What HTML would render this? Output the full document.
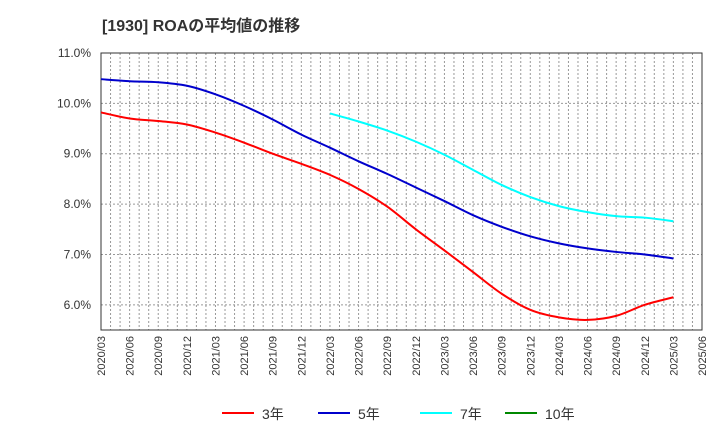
<!DOCTYPE html>
<html><head><meta charset="utf-8"><style>
body{margin:0;background:#fff;font-family:"Liberation Sans","Noto Sans CJK JP",sans-serif}
</style></head><body>
<svg id="c" width="720" height="440" xmlns="http://www.w3.org/2000/svg" font-family="Liberation Sans, Noto Sans CJK JP, sans-serif"></svg>
<script>
const xLabels=["2020/03","2020/06","2020/09","2020/12","2021/03","2021/06","2021/09","2021/12","2022/03","2022/06","2022/09","2022/12","2023/03","2023/06","2023/09","2023/12","2024/03","2024/06","2024/09","2024/12","2025/03","2025/06"];
const yTicks=[6,7,8,9,10,11];
const s3=[9.82,9.7,9.65,9.58,9.42,9.22,9.0,8.8,8.58,8.3,7.95,7.5,7.08,6.65,6.22,5.9,5.75,5.7,5.78,6.0,6.15];
const s5=[10.48,10.44,10.42,10.35,10.18,9.95,9.68,9.38,9.12,8.85,8.6,8.33,8.06,7.78,7.55,7.36,7.22,7.12,7.05,7.0,6.92];
const s7=[null,null,null,null,null,null,null,null,9.8,9.64,9.46,9.24,8.98,8.68,8.38,8.14,7.96,7.84,7.76,7.73,7.66];
const s10=[];
const L=101,R=702,T=53,B=330,yMin=5.5,yMax=11;
const X=i=>L+i*(R-L)/21, Y=v=>B-(v-yMin)/(yMax-yMin)*(B-T);
const svg=document.getElementById('c');const NS="http://www.w3.org/2000/svg";
function el(t,a,p){const e=document.createElementNS(NS,t);for(const k in a)e.setAttribute(k,a[k]);(p||svg).appendChild(e);return e;}
const title=el('text',{x:102,y:31,'font-size':16,'font-weight':'bold',fill:'#333','xml:space':'preserve'});title.textContent="[1930]  ROAの平均値の推移";

const g=el('g',{});
for(let m=1;m<63;m++){const x=L+m*(R-L)/63;el('line',{x1:x,x2:x,y1:T,y2:B,stroke:'#999','stroke-dasharray':'2,2','stroke-width':1},g);}
yTicks.forEach(v=>{el('line',{x1:L,x2:R,y1:Y(v),y2:Y(v),stroke:'#999','stroke-dasharray':'2,2'},g);
const t=el('text',{x:L-10,y:Y(v)+4,'text-anchor':'end','font-size':12,fill:'#333'});t.textContent=v.toFixed(1)+"%";
});
xLabels.forEach((s,i)=>{const x=X(i);const t=el('text',{x:x+4,y:B+6,'text-anchor':'end','font-size':11,fill:'#333',transform:`rotate(-90 ${x+4} ${B+6})`});t.textContent=s;
});
const fr=el('rect',{x:L,y:T,width:R-L,height:B-T,fill:'none',stroke:'#333'});

function line(d,c,n){const pts=[];d.forEach((v,i)=>{if(v!=null)pts.push([X(i),Y(v)]);});
if(!pts.length)return;let p="M"+pts[0];
for(let i=0;i<pts.length-1;i++){const p0=pts[i-1]||pts[i],p1=pts[i],p2=pts[i+1],p3=pts[i+2]||p2;
const c1=[p1[0]+(p2[0]-p0[0])/6,p1[1]+(p2[1]-p0[1])/6],c2=[p2[0]-(p3[0]-p1[0])/6,p2[1]-(p3[1]-p1[1])/6];
p+="C"+c1+" "+c2+" "+p2;}
const e=el('path',{d:p,fill:'none',stroke:c,'stroke-width':2,'stroke-linejoin':'round'});
}
line(s3,'#f00','series-3y');line(s5,'#00c','series-5y');line(s7,'#0ff','series-7y');line(s10,'#080','series-10y');
[["3年",'#f00',222],["5年",'#00c',318],["7年",'#0ff',420],["10年",'#080',505]].forEach(([t,c,x])=>{
const lg=el('g',{});
el('line',{x1:x,x2:x+32,y1:413,y2:413,stroke:c,'stroke-width':2},lg);
const tx=el('text',{x:x+40,y:419,'font-size':14,fill:'#333'},lg);tx.textContent=t;});
</script>
</body></html>
